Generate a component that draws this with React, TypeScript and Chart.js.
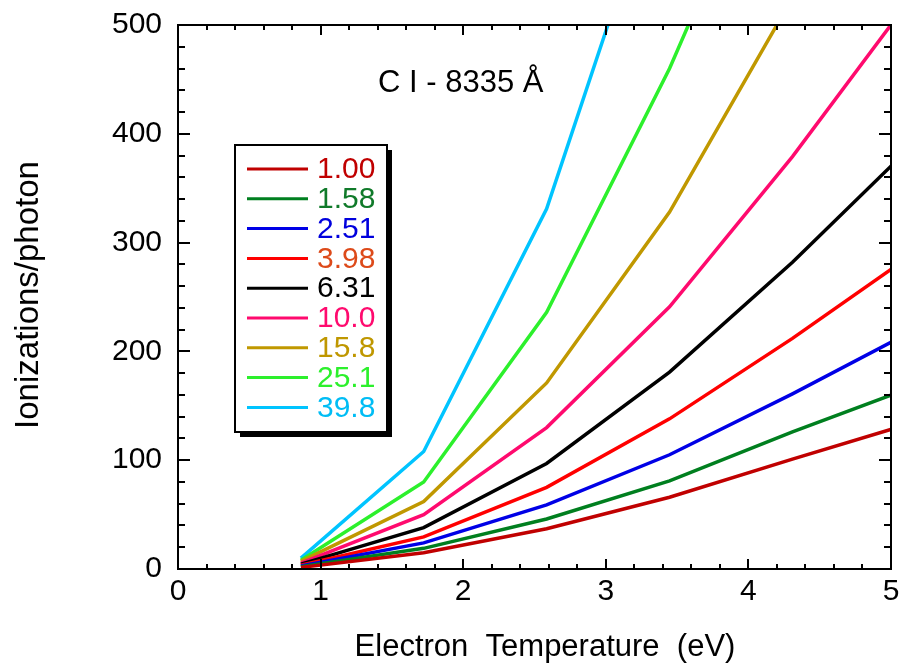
import React, { useEffect, useRef } from 'react';
import { Chart, registerables } from 'chart.js';

Chart.register(...registerables);

// Electron temperature grid (eV) at which the ionization yield was computed
const temperatureEv = [0.862, 1.723, 2.585, 3.447, 4.309, 5.17];

// Legend labels (electron density multipliers)
const densityLabels = ['1.00', '1.58', '2.51', '3.98', '6.31', '10.0', '15.8', '25.1', '39.8'];

// Ionizations per photon for each density, one value per temperature
const yield100 = [1.5, 15, 37, 66, 101, 135];
const yield158 = [2.2, 19, 46, 81, 126, 168];
const yield251 = [2.8, 24, 59, 105, 161, 220];
const yield398 = [3.5, 29.5, 75, 138, 212, 291];
const yield631 = [4.5, 38, 97, 181, 282, 392];
const yield1000 = [5.5, 50, 130, 241, 379, 530];
const yield1580 = [7, 62, 171, 328, 525];
const yield2510 = [8, 80, 236, 460, 720];
const yield3980 = [10, 108, 331, 670];

const seriesValues = [
  yield100, yield158, yield251, yield398, yield631,
  yield1000, yield1580, yield2510, yield3980,
];

const lineColors = [
  '#c00000', '#007f1f', '#0000e6', '#ff0000', '#000000',
  '#ff0a6e', '#c09800', '#2cf02c', '#00c4ff',
];
const labelColors = [
  '#c00000', '#107a2a', '#0000dd', '#dd4a1a', '#000000',
  '#ff0a6e', '#bf9700', '#2cf02c', '#00bdf5',
];

const xTickValues = [0, 1, 2, 3, 4, 5];
const yTickValues = [0, 100, 200, 300, 400, 500];
const xMinorStep = 0.2;
const yMinorStep = 20;

const chartTitle = 'C I - 8335 Å';
const xTitle = 'Electron  Temperature  (eV)';
const yTitle = 'Ionizations/photon';

const FONT = '"Liberation Sans", Arial, Helvetica, sans-serif';

// Inward tick marks on all four sides plus the plot frame
const framePlugin = {
  id: 'frameTicks',
  afterDatasetsDraw(chart: any) {
    const { ctx, chartArea, scales } = chart;
    const { left, right, top, bottom } = chartArea;
    const xs = scales.x;
    const ys = scales.y;
    ctx.save();
    ctx.strokeStyle = '#000';
    ctx.lineWidth = 2;
    ctx.beginPath();
    const nx = Math.round((xs.max - xs.min) / xMinorStep);
    for (let i = 0; i <= nx; i++) {
      const v = xs.min + i * xMinorStep;
      const px = Math.round(xs.getPixelForValue(v));
      const len = i % 5 === 0 ? 10 : 5;
      ctx.moveTo(px, bottom);
      ctx.lineTo(px, bottom - len);
      ctx.moveTo(px, top);
      ctx.lineTo(px, top + len);
    }
    const ny = Math.round((ys.max - ys.min) / yMinorStep);
    for (let i = 0; i <= ny; i++) {
      const v = ys.min + i * yMinorStep;
      const py = Math.round(ys.getPixelForValue(v));
      const len = i % 5 === 0 ? 12 : 7;
      ctx.moveTo(left, py);
      ctx.lineTo(left + len, py);
      ctx.moveTo(right, py);
      ctx.lineTo(right - len, py);
    }
    ctx.stroke();
    ctx.strokeRect(left, top, right - left, bottom - top);
    ctx.restore();
  },
};

// Boxed legend with a drop shadow, placed inside the plot
const legendPlugin = {
  id: 'boxLegend',
  afterDatasetsDraw(chart: any) {
    const { ctx } = chart;
    const bx = 235;
    const by = 145;
    const bw = 152;
    const bh = 287;
    ctx.save();
    ctx.fillStyle = '#000';
    ctx.fillRect(bx + 5, by + 5, bw, bh);
    ctx.fillStyle = '#fff';
    ctx.fillRect(bx, by, bw, bh);
    ctx.strokeStyle = '#000';
    ctx.lineWidth = 2;
    ctx.strokeRect(bx, by, bw, bh);
    ctx.font = `30px ${FONT}`;
    ctx.textAlign = 'left';
    ctx.textBaseline = 'middle';
    chart.data.datasets.forEach((ds: any, i: number) => {
      const ry = 169 + i * 29.8;
      ctx.strokeStyle = ds.borderColor;
      ctx.lineWidth = 3;
      ctx.beginPath();
      ctx.moveTo(247, ry);
      ctx.lineTo(308, ry);
      ctx.stroke();
      ctx.fillStyle = labelColors[i];
      ctx.fillText(ds.label, 317, ry + 1);
    });
    ctx.restore();
  },
};

// Chart title inside the plot and the two axis titles
const titlesPlugin = {
  id: 'titles',
  afterDraw(chart: any) {
    const { ctx } = chart;
    ctx.save();
    ctx.fillStyle = '#000';
    ctx.font = `31px ${FONT}`;
    ctx.textAlign = 'left';
    ctx.textBaseline = 'alphabetic';
    ctx.fillText(chartTitle, 378, 92);

    ctx.textAlign = 'center';
    ctx.textBaseline = 'middle';
    ctx.font = `31px ${FONT}`;
    ctx.fillText(xTitle, 545, 647);

    ctx.font = `33px ${FONT}`;
    ctx.translate(29, 295);
    ctx.rotate(-Math.PI / 2);
    ctx.fillText(yTitle, 0, 0);
    ctx.restore();
  },
};

// Fixed axis sizes; tick-label overflow must not shrink the plot area
const fixScale = (size: number, horizontal: boolean) => (s: any) => {
  if (horizontal) s.height = size; else s.width = size;
  s.paddingLeft = 0;
  s.paddingRight = 0;
  s.paddingTop = 0;
  s.paddingBottom = 0;
};

export default function App() {
  const canvasRef = useRef<HTMLCanvasElement | null>(null);

  useEffect(() => {
    const canvas = canvasRef.current;
    if (!canvas) return;

    const datasets = seriesValues.map((vals, i) => ({
      label: densityLabels[i],
      data: vals.map((v, j) => ({ x: temperatureEv[j], y: v })),
      borderColor: lineColors[i],
      backgroundColor: lineColors[i],
      borderWidth: 3.5,
      pointRadius: 0,
      tension: 0,
      fill: false,
    }));

    const tickFont = { family: FONT, size: 30 };

    const chart = new Chart(canvas, {
      type: 'line',
      data: { datasets },
      options: {
        responsive: false,
        animation: false,
        layout: { padding: { top: 25, right: 8, left: 0, bottom: 0 } },
        plugins: {
          legend: { display: false },
          tooltip: { enabled: false },
          title: { display: false },
        },
        scales: {
          x: {
            type: 'linear',
            min: xTickValues[0],
            max: xTickValues[xTickValues.length - 1],
            afterFit: fixScale(98, true),
            afterBuildTicks: (s: any) => { s.ticks = xTickValues.map((v) => ({ value: v })); },
            grid: { display: false, drawTicks: false },
            border: { display: false },
            ticks: { padding: 5, color: '#000', font: tickFont, autoSkip: false, maxRotation: 0 },
          },
          y: {
            type: 'linear',
            min: yTickValues[0],
            max: yTickValues[yTickValues.length - 1],
            afterFit: fixScale(178, false),
            afterBuildTicks: (s: any) => { s.ticks = yTickValues.map((v) => ({ value: v })); },
            grid: { display: false, drawTicks: false },
            border: { display: false },
            ticks: { padding: 16, color: '#000', font: tickFont, autoSkip: false },
          },
        },
      },
      plugins: [framePlugin, legendPlugin, titlesPlugin],
    } as any);

    return () => chart.destroy();
  }, []);

  return (
    <div style={{ position: 'absolute', left: 0, top: 0, width: 899, height: 667, background: '#fff' }}>
      <canvas ref={canvasRef} width={899} height={667} style={{ display: 'block' }} />
    </div>
  );
}
